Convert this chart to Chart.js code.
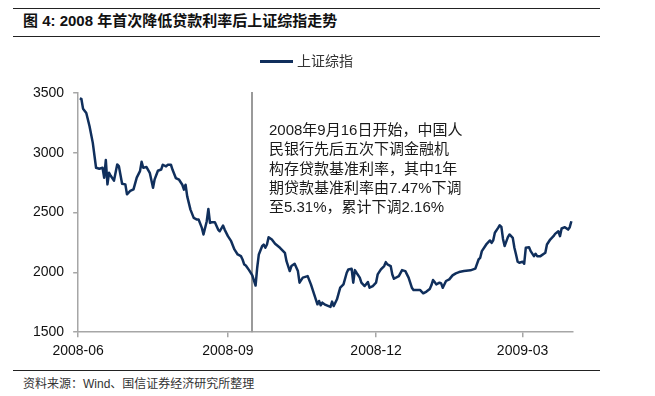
<!DOCTYPE html>
<html>
<head>
<meta charset="utf-8">
<script src="https://cdn.jsdelivr.net/npm/chart.js@4.4.1/dist/chart.umd.min.js"></script>
<style>
  body { margin: 0; background: #fff; width: 655px; height: 396px; overflow: hidden; position: relative;
         font-family: "Liberation Sans", "Noto Sans CJK SC", sans-serif; color: #111; }
  .rule { position: absolute; left: 13px; width: 587px; height: 0; border-top: 1.5px solid #222; }
  #title { position: absolute; left: 23px; top: 11px; font-size: 15px; font-weight: bold; line-height: 20px; white-space: nowrap; }
  #legend { position: absolute; left: 260px; top: 52px; height: 18px; font-size: 14px; line-height: 18px; color: #333; white-space: nowrap; }
  #legend .swatch { position: absolute; left: 0; top: 8px; width: 33px; height: 3px; }
  #legend .name { position: absolute; left: 37px; top: 0; }
  #note { position: absolute; left: 269px; top: 120px; font-size: 15px; line-height: 19.3px; color: #1a1a1a; white-space: nowrap; }
  #source { position: absolute; left: 23px; top: 376px; font-size: 12px; line-height: 16px; color: #333; white-space: nowrap; }
  #wrap { position: absolute; left: 0; top: 40px; width: 622px; height: 330px; }
</style>
</head>
<body>
<div class="rule" style="top:8px"></div>
<div id="title">图 4: 2008 年首次降低贷款利率后上证综指走势</div>
<div class="rule" style="top:36px"></div>
<div id="wrap"><canvas id="chart"></canvas></div>
<div id="legend"><span class="swatch"></span><span class="name"></span></div>
<div id="note">2008年9月16日开始，中国人<br>民银行先后五次下调金融机<br>构存贷款基准利率，其中1年<br>期贷款基准利率由7.47%下调<br>至5.31%，累计下调2.16%</div>
<div class="rule" style="top:370px"></div>
<div id="source">资料来源：Wind、国信证券经济研究所整理</div>

<script>
// 上证综指 收盘
const dates = [
  '2008-06-02','2008-06-03','2008-06-04','2008-06-06','2008-06-08','2008-06-10','2008-06-12','2008-06-14','2008-06-16','2008-06-17',
  '2008-06-18','2008-06-19','2008-06-20','2008-06-21','2008-06-23','2008-06-25','2008-06-26','2008-06-28','2008-06-30','2008-07-01',
  '2008-07-03','2008-07-05','2008-07-07','2008-07-09','2008-07-10','2008-07-11','2008-07-13','2008-07-15','2008-07-17','2008-07-18',
  '2008-07-20','2008-07-22','2008-07-23','2008-07-25','2008-07-26','2008-07-28','2008-07-29','2008-07-31','2008-08-02','2008-08-04',
  '2008-08-05','2008-08-06','2008-08-07','2008-08-09','2008-08-11','2008-08-13','2008-08-14','2008-08-16','2008-08-17','2008-08-19',
  '2008-08-20','2008-08-21','2008-08-22','2008-08-24','2008-08-26','2008-08-27','2008-08-29','2008-08-30','2008-09-01','2008-09-03',
  '2008-09-05','2008-09-07','2008-09-09','2008-09-10','2008-09-11','2008-09-12','2008-09-14','2008-09-16','2008-09-18','2008-09-19',
  '2008-09-20','2008-09-22','2008-09-23','2008-09-24','2008-09-25','2008-09-26','2008-09-28','2008-09-30','2008-10-03','2008-10-06',
  '2008-10-07','2008-10-09','2008-10-10','2008-10-12','2008-10-14','2008-10-15','2008-10-17','2008-10-20','2008-10-22','2008-10-24',
  '2008-10-26','2008-10-27','2008-10-28','2008-10-29','2008-10-31','2008-11-03','2008-11-04','2008-11-05','2008-11-07','2008-11-09',
  '2008-11-11','2008-11-13','2008-11-14','2008-11-16','2008-11-17','2008-11-18','2008-11-19','2008-11-21','2008-11-22','2008-11-24',
  '2008-11-26','2008-11-27','2008-11-29','2008-12-01','2008-12-02','2008-12-04','2008-12-06','2008-12-07','2008-12-08','2008-12-10',
  '2008-12-11','2008-12-12','2008-12-15','2008-12-17','2008-12-19','2008-12-21','2008-12-23','2008-12-24','2008-12-28','2008-12-30',
  '2009-01-01','2009-01-03','2009-01-04','2009-01-05','2009-01-06','2009-01-07','2009-01-09','2009-01-10','2009-01-11','2009-01-13',
  '2009-01-15','2009-01-17','2009-01-19','2009-01-21','2009-01-24','2009-01-28','2009-01-31','2009-02-02','2009-02-03','2009-02-04',
  '2009-02-06','2009-02-07','2009-02-09','2009-02-10','2009-02-11','2009-02-12','2009-02-14','2009-02-15','2009-02-16','2009-02-17',
  '2009-02-18','2009-02-20','2009-02-21','2009-02-23','2009-02-24','2009-02-25','2009-02-26','2009-02-27','2009-03-01','2009-03-02',
  '2009-03-03','2009-03-05','2009-03-06','2009-03-08','2009-03-09','2009-03-10','2009-03-12','2009-03-15','2009-03-16','2009-03-18',
  '2009-03-20','2009-03-21','2009-03-23','2009-03-24','2009-03-25','2009-03-27','2009-03-29','2009-03-30','2009-03-31'
];
const closes = [
  3455,3450,3369,3333,3222,3083,2875,2867,2875,2792,
  2939,2736,2833,2808,2767,2903,2889,2742,2736,2653,
  2681,2694,2792,2847,2925,2875,2881,2833,2708,2778,
  2850,2860,2900,2886,2900,2900,2858,2789,2775,2733,
  2692,2733,2636,2525,2456,2442,2442,2372,2317,2428,
  2531,2414,2419,2419,2358,2344,2392,2358,2303,2261,
  2192,2150,2136,2108,2067,2058,2019,1975,1890,2039,
  2150,2219,2233,2206,2233,2294,2275,2239,2206,2164,
  2094,2011,2053,2072,2011,1914,1956,1969,1900,1817,
  1733,1761,1725,1747,1728,1711,1756,1719,1775,1872,
  1900,1997,2025,2031,1914,2019,1997,1956,1914,1886,
  1919,1872,1886,1914,1983,2025,2053,2086,2067,2053,
  1983,1947,1969,2019,2011,1956,1872,1853,1853,1825,
  1840,1862,1892,1936,1919,1900,1914,1908,1872,1928,
  1942,1975,1992,2003,2011,2017,2031,2108,2122,2178,
  2219,2239,2267,2247,2269,2331,2372,2394,2380,2280,
  2220,2295,2317,2289,2206,2150,2089,2081,2089,2072,
  2206,2211,2178,2136,2156,2136,2136,2164,2233,2275,
  2303,2322,2344,2303,2367,2378,2358,2378,2428
];
const monthTicks = ['2008-06', '2008-09', '2008-12', '2009-03'];
const yTicks = [1500, 2000, 2500, 3000, 3500];
const axisStart = '2008-06-01';
const axisEnd = '2009-04-01';
const rateCutDate = '2008-09-16';
const seriesName = '上证综指';

function dayOf(s) {
  const [y, m, d] = s.split('-').map(Number);
  const [y0, m0, d0] = axisStart.split('-').map(Number);
  return (Date.UTC(y, m - 1, d) - Date.UTC(y0, m0 - 1, d0)) / 864e5;
}

const navy = '#102f5c';
const axisGrey = '#a6a6a6';
Chart.defaults.font.family = '"Liberation Sans", "Noto Sans CJK SC", sans-serif';

// 图例
document.querySelector('#legend .swatch').style.background = navy;
document.querySelector('#legend .name').textContent = seriesName;

// 降息起点的竖线
const cutLine = {
  id: 'cutLine',
  beforeDatasetsDraw(chart) {
    const { ctx, chartArea, scales } = chart;
    const x = Math.round(scales.x.getPixelForValue(dayOf(rateCutDate)));
    ctx.save();
    ctx.strokeStyle = '#9a9a9a';
    ctx.lineWidth = 2;
    ctx.beginPath();
    ctx.moveTo(x, chartArea.top - 1);
    ctx.lineTo(x, chartArea.bottom);
    ctx.stroke();
    ctx.restore();
  }
};

new Chart(document.getElementById('chart'), {
  type: 'line',
  data: {
    datasets: [{
      label: seriesName,
      data: dates.map((d, i) => ({ x: dayOf(d), y: closes[i] })),
      borderColor: navy,
      backgroundColor: navy,
      borderWidth: 2.5,
      borderJoinStyle: 'round',
      pointRadius: 0,
      tension: 0
    }]
  },
  options: {
    responsive: true,
    maintainAspectRatio: false,
    animation: false,
    layout: { padding: { left: 24, right: 49, top: 53, bottom: 4 } },
    plugins: {
      legend: { display: false },
      tooltip: { enabled: false }
    },
    scales: {
      x: {
        type: 'linear',
        min: 0,
        max: dayOf(axisEnd),
        afterBuildTicks: axis => { axis.ticks = monthTicks.map(m => ({ value: dayOf(m + '-01') })); },
        ticks: {
          autoSkip: false, maxRotation: 0, color: '#111', font: { size: 14 }, padding: 6,
          callback: v => monthTicks.find(m => dayOf(m + '-01') === v)
        },
        grid: { drawOnChartArea: false, color: axisGrey, lineWidth: 1.5, tickLength: 5 },
        border: { color: axisGrey, width: 1.5 }
      },
      y: {
        min: yTicks[0],
        max: yTicks[yTicks.length - 1],
        afterBuildTicks: axis => { axis.ticks = yTicks.map(v => ({ value: v })); },
        ticks: { color: '#111', font: { size: 14 }, padding: 9, callback: v => String(v) },
        grid: { drawOnChartArea: false, color: axisGrey, lineWidth: 1.5, tickLength: 5 },
        border: { color: axisGrey, width: 1.5 }
      }
    }
  },
  plugins: [cutLine]
});
</script>
</body>
</html>
